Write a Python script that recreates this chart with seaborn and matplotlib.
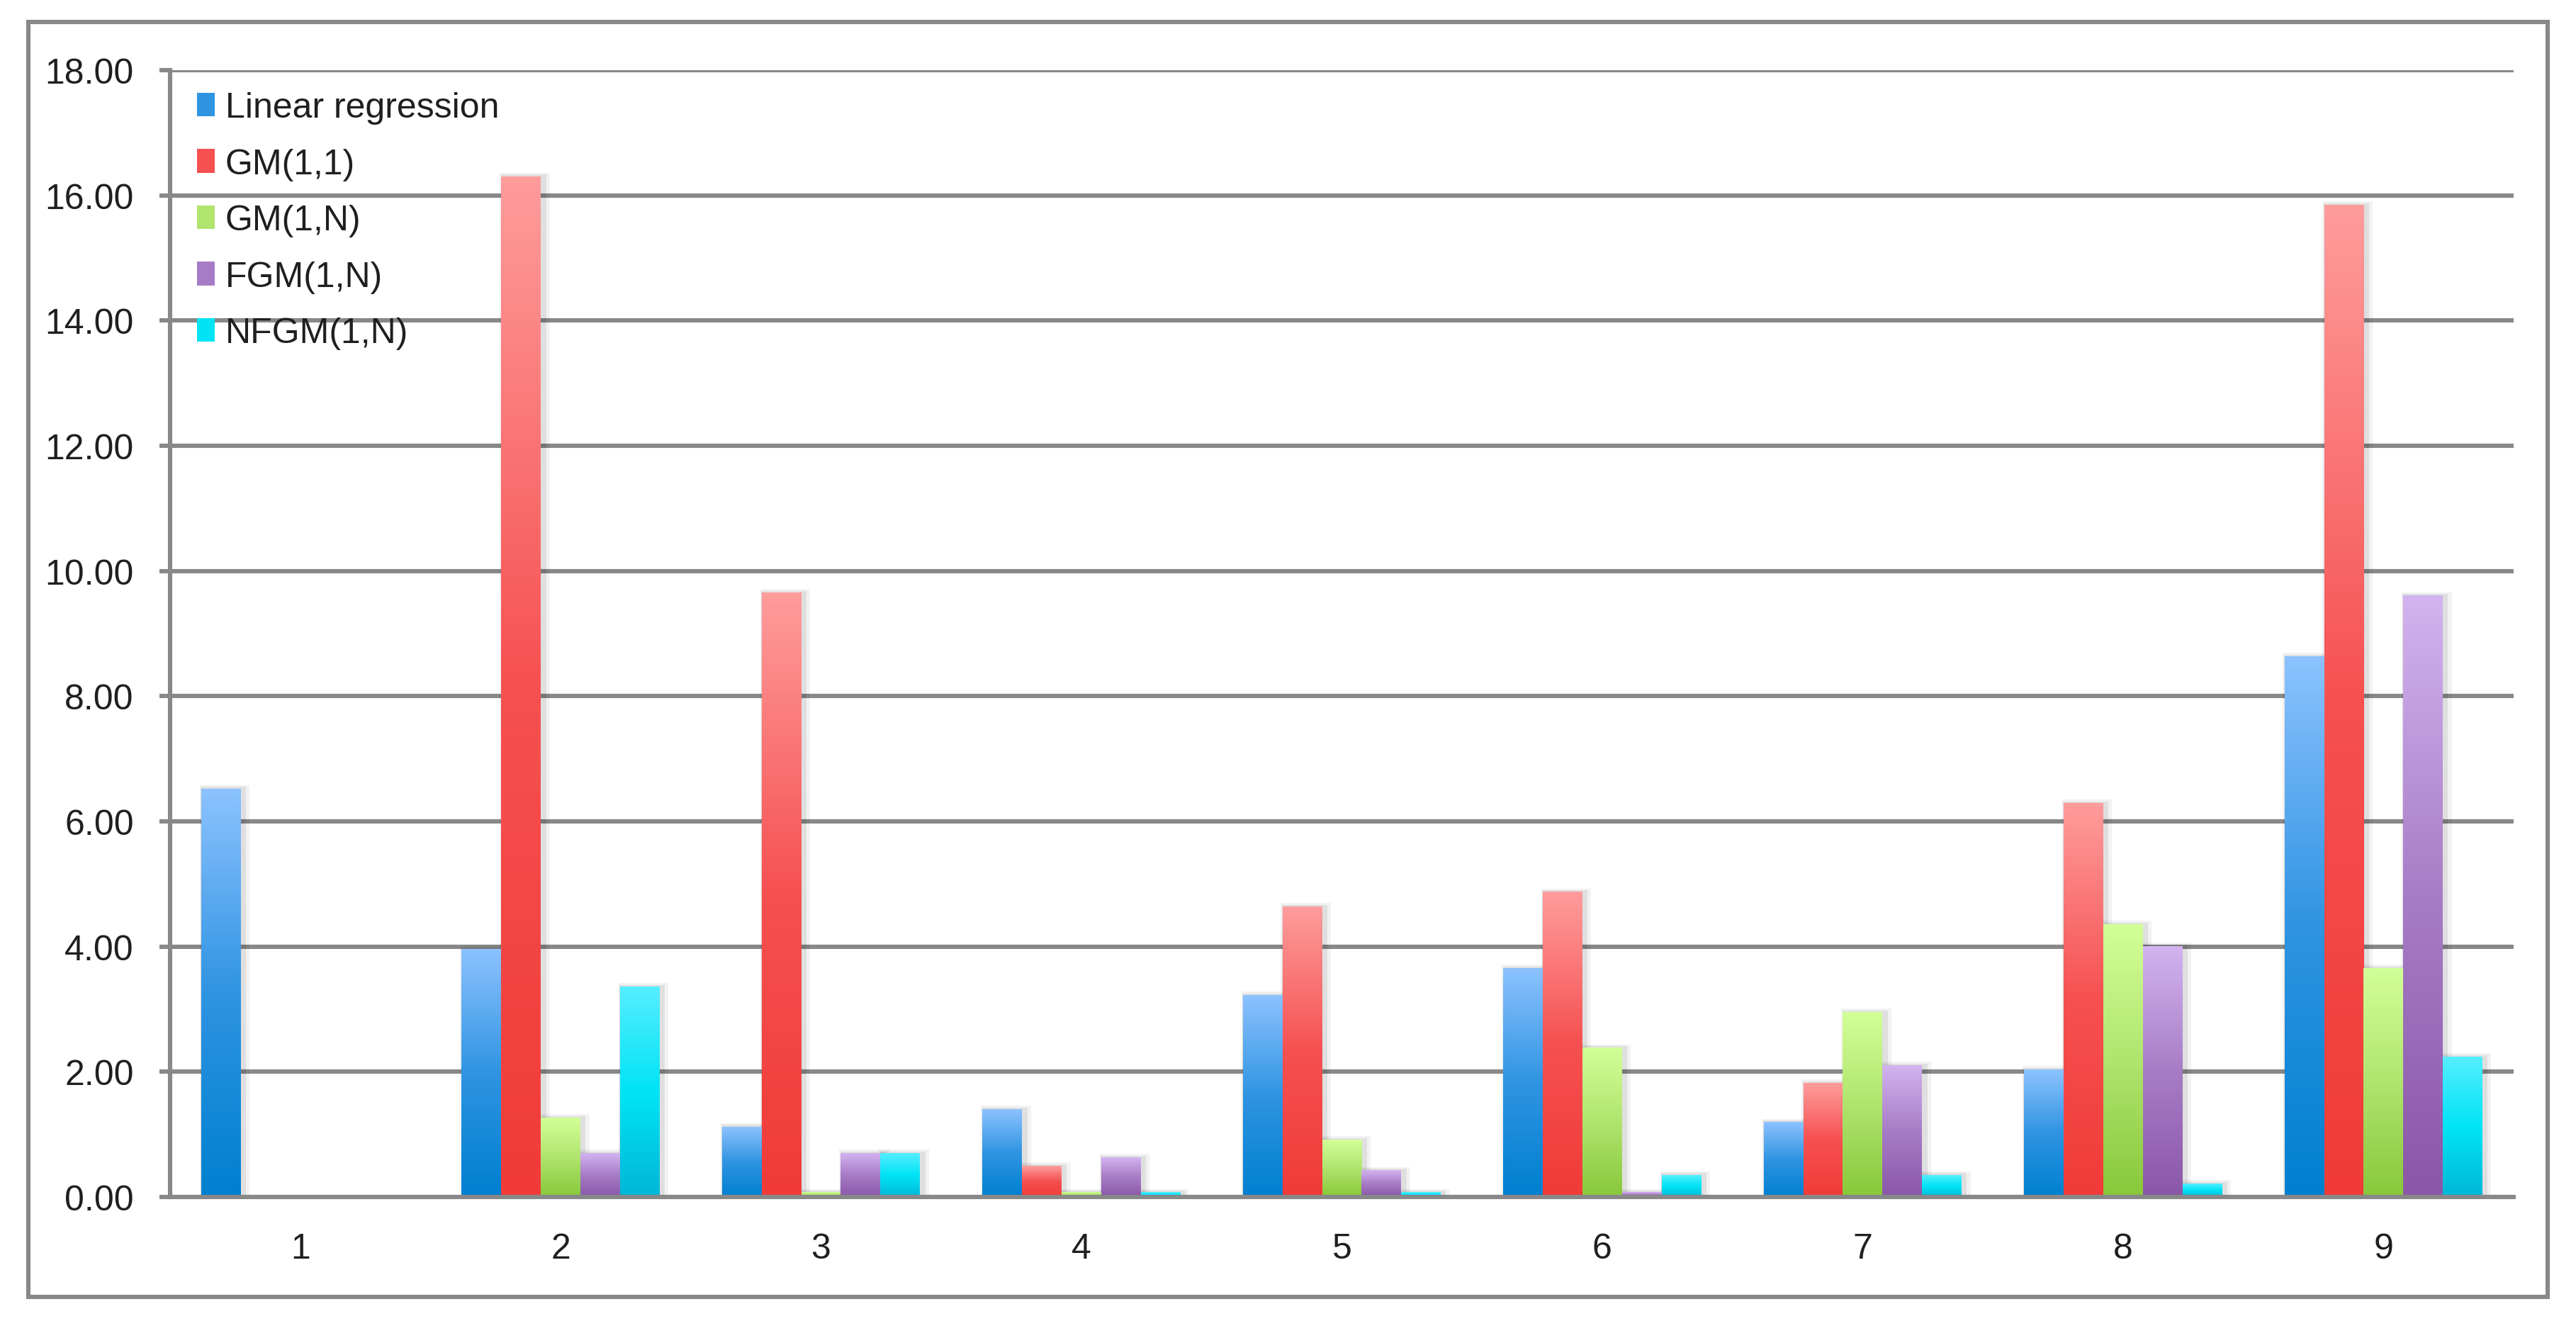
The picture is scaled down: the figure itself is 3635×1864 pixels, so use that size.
import numpy as np
import pandas as pd
import matplotlib
matplotlib.use("Agg")
import matplotlib.pyplot as plt
import seaborn as sns
from matplotlib.colors import LinearSegmentedColormap
from matplotlib.patches import Rectangle, Patch

# data
groups = ["1", "2", "3", "4", "5", "6", "7", "8", "9"]
models = ["Linear regression", "GM(1,1)", "GM(1,N)", "FGM(1,N)", "NFGM(1,N)"]
linear_regression = [6.52, 3.96, 1.12, 1.40, 3.22, 3.65, 1.19, 2.03, 8.63]
gm11 = [0.0, 16.30, 9.65, 0.49, 4.64, 4.87, 1.82, 6.29, 15.84]
gm1n = [0.0, 1.26, 0.07, 0.07, 0.91, 2.38, 2.95, 4.35, 3.65]
fgm1n = [0.0, 0.70, 0.70, 0.63, 0.42, 0.07, 2.10, 4.00, 9.60]
nfgm1n = [0.0, 3.36, 0.70, 0.07, 0.07, 0.35, 0.35, 0.21, 2.24]

series = [linear_regression, gm11, gm1n, fgm1n, nfgm1n]
df = pd.DataFrame({
    "Group": groups * len(models),
    "Model": [m for m in models for _ in groups],
    "Value": [v for s in series for v in s],
})

# Excel-like gradients, top -> bottom
gradients = [
    ["#8CC2FF", "#2F94E2", "#0080D0"],
    ["#FF9C9C", "#F65050", "#F03B38"],
    ["#D2FF98", "#B0E46E", "#88C83A"],
    ["#D3B3F0", "#A77CC6", "#8A57A8"],
    ["#55EEFF", "#00E4F6", "#00B6D6"],
]
solid = [g[1] for g in gradients]
grid_gray = "#888888"

sns.set_theme(style="white")
plt.rcParams["font.family"] = ["Liberation Sans Narrow", "Liberation Sans", "DejaVu Sans"]

fig = plt.figure(figsize=(18.175, 9.325), dpi=200)
ax = fig.add_axes([0.066, 0.0938, 0.9098, 0.8526])

sns.barplot(data=df, x="Group", y="Value", hue="Model", order=groups,
            hue_order=models, palette=solid, width=0.76, gap=0,
            saturation=1, linewidth=0, legend=False, ax=ax)

# gradient fill + soft shadow for every bar
for i, cont in enumerate(ax.containers):
    cmap = LinearSegmentedColormap.from_list(f"g{i}", gradients[i])
    grad = cmap(np.linspace(0, 1, 256))[:, None, :]
    for bar in cont:
        h = bar.get_height()
        if h <= 0:
            continue
        x, w = bar.get_x(), bar.get_width()
        ax.add_patch(Rectangle((x - 0.006, 0), w + 0.04, h + 0.06, color="black",
                               alpha=0.05, lw=0, zorder=0.8))
        ax.add_patch(Rectangle((x - 0.002, 0), w + 0.022, h + 0.03, color="black",
                               alpha=0.08, lw=0, zorder=0.8))
        ax.imshow(grad, extent=[x, x + w, 0, h], aspect="auto", origin="upper",
                  interpolation="bilinear", zorder=1.2)

ax.set_xlim(-0.5, 8.5)
ax.set_ylim(0, 18)
ax.set_yticks(np.arange(0, 19, 2))
ax.set_yticklabels([f"{v:.2f}" for v in np.arange(0, 19, 2)])
ax.set_xlabel("")
ax.set_ylabel("")

ax.set_axisbelow(True)
ax.yaxis.grid(True, color=grid_gray, lw=2.2)
ax.xaxis.grid(False)
for side in ["top", "right"]:
    ax.spines[side].set_visible(False)
for side in ["left", "bottom"]:
    ax.spines[side].set_color(grid_gray)
    ax.spines[side].set_linewidth(2.2)
    ax.spines[side].set_zorder(3)

ax.set_xticks(np.arange(-0.5, 9, 1), minor=True)
ax.tick_params(axis="x", which="major", length=0, pad=18, labelsize=18, labelcolor="#1f1f1f")
ax.tick_params(axis="x", which="minor", length=4.5, width=2.2, color=grid_gray, direction="out")
ax.tick_params(axis="y", which="major", length=5.4, width=2.2, color=grid_gray, direction="out",
               pad=13, labelsize=18, labelcolor="#1f1f1f", left=True)

handles = [Patch(facecolor=c, edgecolor="none") for c in solid]
ax.legend(handles, models, loc="upper left", bbox_to_anchor=(0.0115, 0.981), frameon=False,
          fontsize=18, labelcolor="#1f1f1f", handlelength=0.5, handleheight=0.65,
          handletextpad=0.3, labelspacing=0.67, borderpad=0, borderaxespad=0)

# outer chart border
fig.add_artist(Rectangle((0.011, 0.0182), 0.978, 0.9646, transform=fig.transFigure,
                         fill=False, edgecolor=grid_gray, lw=2.2))

fig.savefig("out.png", dpi=200)
